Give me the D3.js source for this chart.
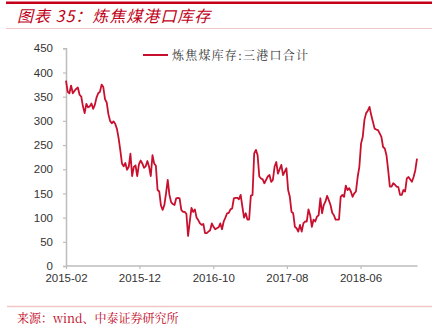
<!DOCTYPE html>
<html>
<head>
<meta charset="utf-8">
<script src="https://cdn.jsdelivr.net/npm/d3@7"></script>
<style>
  html, body { margin: 0; padding: 0; background: #fff; }
  svg { display: block; }
</style>
</head>
<body>
<svg id="chart" width="438" height="325"></svg>
<script>
// Weekly coking-coal stock at the three ports (10k tonnes), starting 2015-02-01
const startDate = "2015-02-01";
const stockValues = [
  383, 360, 357, 373, 357, 362, 366, 369, 354, 350,
  330, 316, 335, 328, 330, 336, 325, 333, 348, 357,
  360, 375, 370, 345, 338, 314, 300, 295, 299, 294,
  284, 265, 240, 212, 206, 213, 199, 205, 232, 186,
  205, 208, 186, 210, 218, 212, 203, 206, 217, 205,
  186, 229, 212, 207, 157, 154, 125, 116, 126, 150,
  178, 147, 132, 128, 126, 140, 141, 140, 116, 112,
  112, 108, 62, 92, 120, 112, 117, 100, 95, 88,
  85, 87, 68, 68, 71, 74, 88, 81, 76, 78,
  80, 88, 76, 92, 100, 109, 110, 117, 119, 140,
  141, 141, 138, 147, 123, 100, 109, 96, 96, 145,
  147, 233, 240, 229, 185, 181, 179, 171, 178, 185,
  188, 174, 178, 205, 215, 191, 200, 209, 188, 195,
  202, 157, 143, 112, 109, 81, 78, 71, 85, 71,
  88, 92, 92, 117, 105, 81, 96, 92, 102, 105,
  140, 109, 126, 133, 145, 136, 126, 110, 105, 96,
  96, 96, 143, 147, 143, 166, 157, 161, 154, 143,
  150, 154, 184, 205, 253, 267, 302, 316, 321, 329,
  312, 298, 284, 282, 281, 274, 267, 246, 243, 229,
  198, 164, 164, 171, 168, 164, 163, 147, 147, 157,
  154, 181, 184, 179, 174, 184, 198, 222
];
const xTickLabels = ["2015-02", "2015-12", "2016-10", "2017-08", "2018-06"];
const yTicks = [0, 50, 100, 150, 200, 250, 300, 350, 400, 450];
const seriesName = "炼焦煤库存:三港口合计";
const titleText = "图表 35：炼焦煤港口库存";
const sourceText = "来源：wind、中泰证券研究所";

const parseDay = d3.timeParse("%Y-%m-%d");
const parseMonth = d3.timeParse("%Y-%m");
const fmtMonth = d3.timeFormat("%Y-%m");
const t0 = parseDay(startDate);
const data = stockValues.map((v, i) => ({ date: d3.timeDay.offset(t0, i * 7), value: v }));

const svg = d3.select("#chart");
const red = "#c00018";
const lineRed = "#c8102e";

// header rules and title
svg.append("rect").attr("x", 6).attr("y", 1.5).attr("width", 426).attr("height", 2.5).attr("fill", "#c4001a");
svg.append("line").attr("x1", 6).attr("x2", 432).attr("y1", 28.5).attr("y2", 28.5)
  .attr("stroke", "#f2c6c6").attr("stroke-width", 1.2);
svg.append("text").attr("x", 17).attr("y", 22)
  .attr("font-family", "'Noto Sans CJK SC', sans-serif").attr("font-size", 16)
  .attr("font-style", "italic").attr("fill", red).attr("letter-spacing", 1)
  .text(titleText);

// footer rule and source
svg.append("line").attr("x1", 7).attr("x2", 432).attr("y1", 306.5).attr("y2", 306.5)
  .attr("stroke", "#f2c6c6").attr("stroke-width", 1.5);
svg.append("text").attr("x", 17).attr("y", 323)
  .attr("font-family", "'Noto Serif CJK SC', 'Noto Sans CJK SC', serif").attr("font-size", 12)
  .attr("fill", red)
  .text(sourceText);

// scales
const x = d3.scaleTime()
  .domain([t0, data[data.length - 1].date])
  .range([66, 417]);
const y = d3.scaleLinear().domain([0, 450]).range([266, 48.3]);

// y axis
const yAxis = svg.append("g").attr("transform", "translate(66,0)")
  .call(d3.axisLeft(y).tickValues(yTicks).tickSize(3).tickPadding(10));
// x axis
const xAxis = svg.append("g").attr("transform", "translate(0,266)")
  .call(d3.axisBottom(x).tickValues(xTickLabels.map(parseMonth)).tickFormat(fmtMonth)
    .tickSize(3).tickPadding(5));
xAxis.select(".domain").attr("d", "M66,0H417.5");

[yAxis, xAxis].forEach(g => {
  g.select(".domain").attr("stroke", "#bdbdbd").attr("stroke-width", 1.5);
  g.selectAll(".tick line").attr("stroke", "#bdbdbd").attr("stroke-width", 1.2);
  g.selectAll(".tick text").attr("fill", "#333")
    .attr("font-family", "'Liberation Sans', Arial, sans-serif").attr("font-size", 11.5);
});

// series line
svg.append("path").datum(data)
  .attr("fill", "none").attr("stroke", lineRed).attr("stroke-width", 1.8)
  .attr("stroke-linejoin", "round")
  .attr("d", d3.line().x(d => x(d.date)).y(d => y(d.value)));

// legend
svg.append("line").attr("x1", 143).attr("x2", 168).attr("y1", 55).attr("y2", 55)
  .attr("stroke", lineRed).attr("stroke-width", 2);
svg.append("text").attr("x", 172).attr("y", 59.5)
  .attr("font-family", "'Noto Serif CJK SC', 'Noto Sans CJK SC', serif").attr("font-size", 12)
  .attr("letter-spacing", 1.2).attr("fill", "#333")
  .text(seriesName);
</script>
</body>
</html>
